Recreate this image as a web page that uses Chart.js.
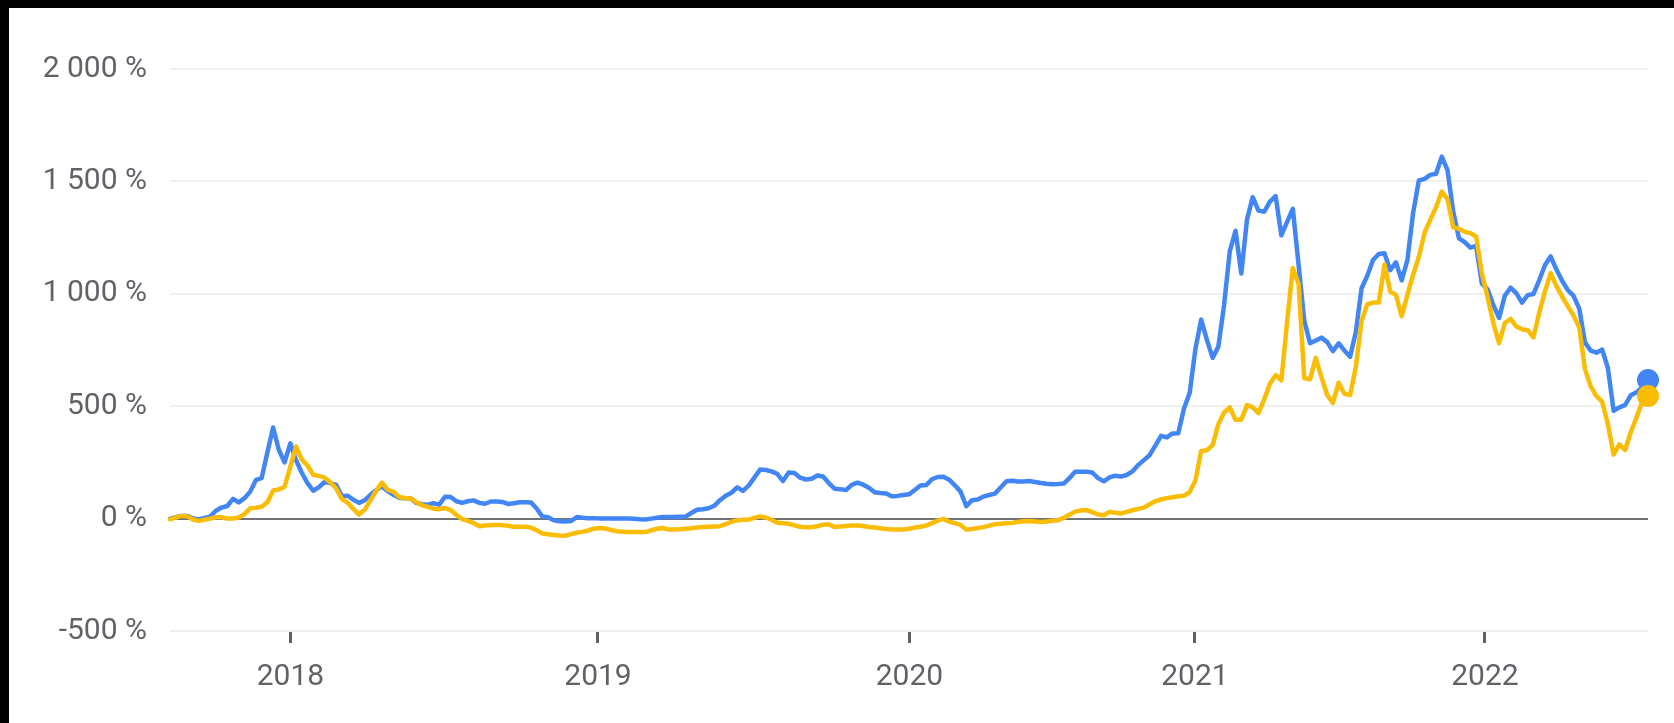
<!DOCTYPE html>
<html>
<head>
<meta charset="utf-8">
<script src="https://cdn.jsdelivr.net/npm/chart.js@4.4.1/dist/chart.umd.min.js"></script>
<style>
  html, body { margin: 0; padding: 0; background: #000; }
  #wrap { position: absolute; left: 9px; top: 8px; width: 1665px; height: 715px; background: #fff; }
  canvas { display: block; }
</style>
</head>
<body>
<div id="wrap"><canvas id="c" width="1665" height="715"></canvas></div>
<script>
// Observation periods (roughly weekly), from Aug 2017 to Jul 2022.
// Year labels and the observation period at which each year begins.
const yearTicks = [2018, 2019, 2020, 2021, 2022];
const yearStartPeriod = [21.03, 74.71, 129.08, 178.92, 229.53];
const yTickValues = [-500, 0, 500, 1000, 1500, 2000];

// Cumulative return, % (blue series)
const blueValues = [
  0, 6, 12, 12, 1, -4, 3, 9, 35, 49,
  56, 88, 72, 91, 120, 172, 180, 295, 405, 305,
  250, 335, 260, 204, 158, 124, 140, 163, 158, 150,
  100, 102, 84, 70, 82, 106, 127, 143, 122, 106,
  93, 91, 90, 70, 64, 62, 68, 62, 97, 96,
  77, 70, 77, 81, 70, 66, 76, 76, 74, 65,
  68, 73, 73, 72, 45, 9, 6, -8, -12, -13,
  -11, 7, 4, 2, 2, 1, 1, 0, 0, 0,
  0, -1, -3, -4, 0, 4, 7, 7, 7, 8,
  9, 25, 39, 42, 46, 57, 82, 102, 115, 139,
  123, 147, 182, 218, 216, 210, 199, 167, 205, 203,
  182, 174, 177, 192, 187, 158, 133, 131, 127, 150,
  160, 151, 137, 117, 114, 112, 99, 101, 105, 108,
  127, 147, 149, 175, 185, 186, 173, 148, 120, 55,
  82, 85, 98, 105, 111, 138, 166, 168, 165, 165,
  167, 163, 158, 155, 153, 154, 156, 180, 208, 208,
  208, 205, 180, 166, 183, 191, 187, 194, 210, 238,
  260, 282, 325, 368, 361, 379, 380, 490, 560, 755,
  885, 795, 715, 765, 950, 1190, 1280, 1090, 1330, 1430,
  1370, 1365, 1410, 1435, 1260, 1320, 1378, 1130, 880, 780,
  792, 805, 785, 745, 780, 748, 720, 830, 1025, 1080,
  1150, 1177, 1180, 1105, 1140, 1060, 1150, 1360, 1504, 1511,
  1529, 1534, 1610, 1550, 1365, 1247, 1230, 1205, 1213, 1045,
  1020, 950, 893, 991, 1027, 1003, 961, 994, 999, 1060,
  1127, 1166, 1109, 1058, 1017, 991, 934, 784, 747, 738,
  752, 670, 480, 495, 505, 549, 562, 583, 616
];

// Cumulative return, % (yellow series)
const yellowValues = [
  -3, 5, 12, 11, -4, -10, -5, 0, 6, 6,
  0, 0, 5, 20, 46, 48, 53, 73, 125, 130,
  142, 230, 320, 263, 236, 195, 190, 182, 161, 135,
  87, 71, 43, 18, 40, 82, 124, 160, 128, 120,
  96, 91, 90, 73, 59, 52, 44, 42, 47, 38,
  16, -2, -10, -20, -34, -31, -28, -28, -29, -32,
  -36, -36, -36, -40, -52, -66, -70, -73, -75, -76,
  -69, -63, -59, -53, -45, -42, -44, -51, -56, -58,
  -60, -60, -60, -60, -52, -45, -42, -49, -48, -47,
  -45, -43, -40, -37, -36, -35, -34, -25, -14, -8,
  -5, -5, 3, 10, 5, -5, -18, -21, -23, -30,
  -36, -39, -38, -34, -27, -25, -37, -35, -33, -31,
  -31, -33, -37, -40, -43, -46, -48, -49, -49, -45,
  -40, -36, -31, -20, -9, -1, -14, -20, -28, -49,
  -46, -42, -38, -31, -25, -23, -21, -19, -15, -12,
  -11, -13, -15, -13, -10, -7, 3, 17, 31, 36,
  38, 29, 18, 15, 30, 26, 23, 30, 37, 43,
  49, 64, 77, 85, 91, 95, 99, 102, 118, 170,
  301, 304, 327, 420, 472, 495, 440, 440, 505, 495,
  469, 530, 600, 638, 615, 875, 1115, 1045, 625, 620,
  715, 628, 550, 515, 605, 555, 550, 675, 880, 953,
  961, 961, 1130, 1010, 995, 900, 995, 1085, 1165, 1272,
  1330, 1385, 1455, 1421, 1296, 1289, 1276, 1270, 1255, 1090,
  985, 870, 780, 870, 888, 855, 842, 838, 806, 915,
  1010, 1092, 1035, 988, 945, 903, 850, 665, 588, 545,
  520, 420, 285, 330, 305, 385, 450, 522, 545
];

const lastIdx = blueValues.length - 1;
const toPoints = vals => vals.map((v, i) => ({ x: i, y: v }));

function fmtPct(v) {
  const s = Math.abs(v).toString().replace(/\B(?=(\d{3})+(?!\d))/g, ' ');
  return (v < 0 ? '-' : '') + s + ' %';
}

const FONT = { family: 'Roboto, "Noto Sans", sans-serif', size: 30 };
const TEXT = '#5f6368';

function lineDataset(label, values, color) {
  return {
    label: label,
    data: toPoints(values),
    borderColor: color,
    backgroundColor: color,
    borderWidth: 4.5,
    tension: 0,
    borderJoinStyle: 'round',
    borderCapStyle: 'round',
    pointRadius: ctx => ctx.dataIndex === lastIdx ? 11 : 0,
    pointBorderWidth: 0,
    pointHoverRadius: 0,
    clip: false
  };
}

new Chart(document.getElementById('c'), {
  type: 'line',
  data: {
    datasets: [
      lineDataset('yellow', yellowValues, '#fbbc04'),
      lineDataset('blue', blueValues, '#4285f4')
    ]
  },
  options: {
    responsive: false,
    animation: false,
    devicePixelRatio: 1,
    events: [],
    layout: { padding: { top: 61, right: 26, bottom: 0, left: 0 } },
    plugins: { legend: { display: false }, tooltip: { enabled: false } },
    scales: {
      x: {
        type: 'linear',
        min: 0,
        max: lastIdx,
        border: { display: false },
        grid: {
          drawOnChartArea: false,
          drawTicks: true,
          tickLength: 12,
          tickWidth: 3,
          tickColor: '#5f6368'
        },
        afterBuildTicks: s => { s.ticks = yearStartPeriod.map(p => ({ value: p })); },
        afterFit: s => { s.height = 92; },
        ticks: {
          padding: 16,
          maxRotation: 0,
          autoSkip: false,
          color: TEXT,
          font: FONT,
          callback: (v, i) => String(yearTicks[i])
        }
      },
      y: {
        min: -500,
        max: 2000,
        border: { display: false },
        afterBuildTicks: s => { s.ticks = yTickValues.map(v => ({ value: v })); },
        afterFit: s => { s.width = 161; },
        grid: {
          drawTicks: false,
          lineWidth: 2,
          color: ctx => (ctx.tick && ctx.tick.value === 0) ? '#6f7378' : '#f0f0f0'
        },
        ticks: {
          padding: 23,
          color: TEXT,
          font: FONT,
          callback: v => fmtPct(v)
        }
      }
    }
  }
});
</script>
</body>
</html>
